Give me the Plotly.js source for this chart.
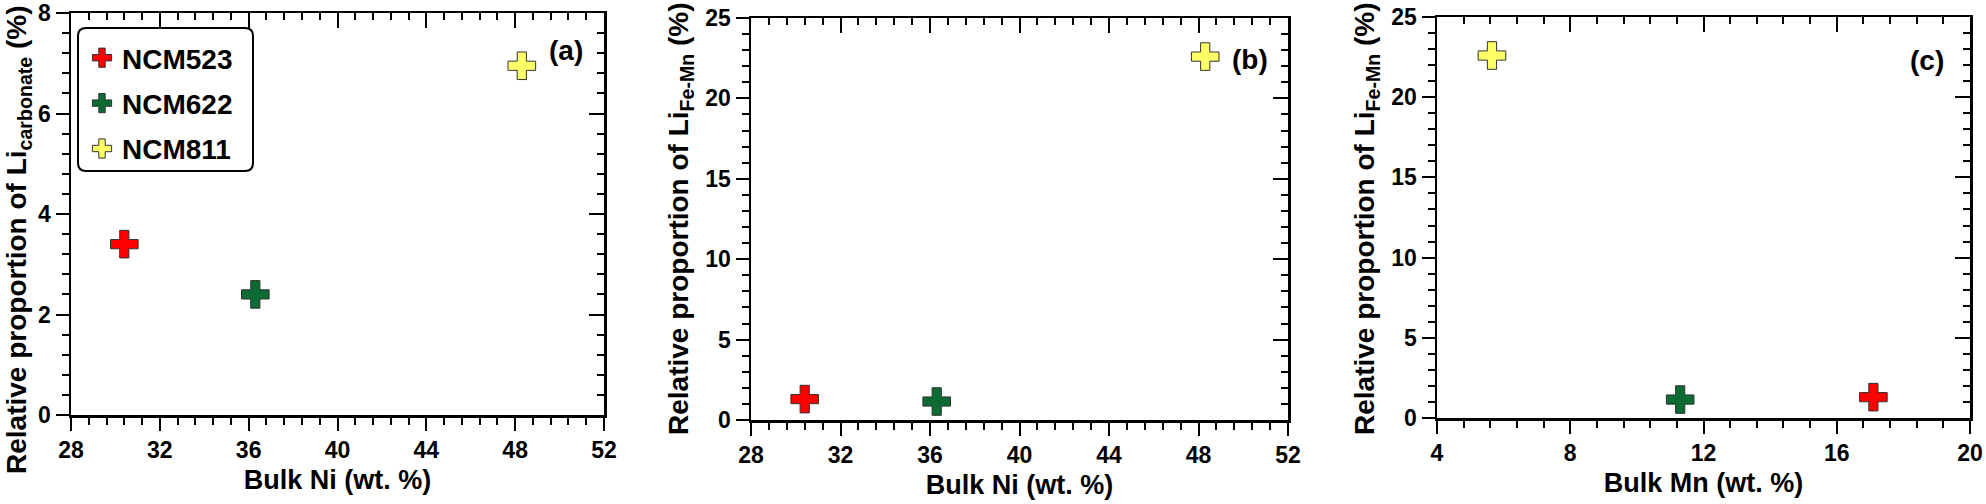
<!DOCTYPE html>
<html>
<head>
<meta charset="utf-8">
<script src="https://cdn.plot.ly/plotly-3.0.1.min.js"></script>
<style>
  html, body { margin: 0; padding: 0; background: #fff; }
  #chart { width: 1986px; height: 504px; }
</style>
</head>
<body>
<div id="chart"></div>
<script>
// ---- data ----
const samples = ['NCM523', 'NCM622', 'NCM811'];
const bulkNi = [30.4, 36.3, 48.3];
const bulkMn = [17.1, 11.3, 5.65];
const liCarbonate = [3.4, 2.4, 6.95];
const liFeMn = [1.3, 1.15, 22.6];
const sampleColors = ['#FF0000', '#0B6B32', '#FFFF66'];
const panelLabels = ['(a)', '(b)', '(c)'];
const xTitles = ['Bulk Ni (wt. %)', 'Bulk Ni (wt. %)', 'Bulk Mn (wt. %)'];
const yTitles = ['Relative proportion of Li<sub>carbonate</sub> (%)',
                 'Relative proportion of Li<sub>Fe-Mn</sub> (%)',
                 'Relative proportion of Li<sub>Fe-Mn</sub> (%)'];

// ---- layout geometry ----
const W = 1986, H = 504;
const FONT = 'Liberation Sans, Arial, sans-serif';
const panels = [
  {x0: 71, x1: 604, y0: 13, y1: 415, xr: [28, 52], xd: 4, xm: 0.8, yr: [0, 8], yd: 2, ym: 0.4,
   xs: bulkNi, ys: liCarbonate, lab: [50.3, 7.25], ytx: 18, ytyc: 240},
  {x0: 751, x1: 1288, y0: 18, y1: 420, xr: [28, 52], xd: 4, xm: 0.8, yr: [0, 25], yd: 5, ym: 1,
   xs: bulkNi, ys: liFeMn, lab: [50.3, 22.4], ytx: 680, ytyc: 219},
  {x0: 1437, x1: 1970, y0: 17, y1: 418, xr: [4, 20], xd: 4, xm: 0.8, yr: [0, 25], yd: 5, ym: 1,
   xs: bulkMn, ys: liFeMn, lab: [18.7, 22.3], ytx: 1366, ytyc: 219}
];

const tickFont = {family: FONT, size: 23, color: '#000', weight: 'bold'};
const titleFont = {family: FONT, size: 27, color: '#000', weight: 'bold'};
const yTitleFont = {family: FONT, size: 28, color: '#000', weight: 'bold'};

const traces = [];
const layout = {
  width: W, height: H,
  margin: {l: 0, r: 0, t: 0, b: 0},
  paper_bgcolor: '#fff', plot_bgcolor: '#fff',
  showlegend: true,
  legend: {
    x: 82 / W, y: 1 - 33 / H, xanchor: 'left', yanchor: 'top',
    font: {family: FONT, size: 28, color: '#000', weight: 'bold'},
    bgcolor: 'rgba(0,0,0,0)', borderwidth: 0,
    traceorder: 'grouped', tracegroupgap: 6, itemwidth: 30
  },
  annotations: [],
  shapes: []
};

panels.forEach((p, i) => {
  const n = i + 1, m = i + 4;
  const xs = n === 1 ? '' : String(n);
  const xo = String(m);
  const dx = [p.x0 / W, p.x1 / W];
  const dy = [1 - p.y1 / H, 1 - p.y0 / H];

  const base = {
    showline: true, linecolor: '#000', linewidth: 2.5,
    showgrid: false, zeroline: false, ticks: 'outside', tickcolor: '#000',
    tickwidth: 2, ticklen: 13, tickfont: tickFont, fixedrange: true
  };
  layout['xaxis' + xs] = Object.assign({}, base, {
    domain: dx, anchor: 'y' + xs, range: p.xr, tick0: p.xr[0], dtick: p.xd,
    minor: {dtick: p.xm, tick0: p.xr[0], ticks: 'outside', ticklen: 7, tickwidth: 2, tickcolor: '#000'},
    title: {text: xTitles[i], font: titleFont, standoff: 8}
  });
  layout['yaxis' + xs] = Object.assign({}, base, {
    domain: dy, anchor: 'x' + xs, range: p.yr, tick0: 0, dtick: p.yd,
    minor: {dtick: p.ym, tick0: 0, ticks: 'outside', ticklen: 7, tickwidth: 2, tickcolor: '#000'}
  });
  // mirrored axes with inward ticks (top and right)
  layout['xaxis' + xo] = Object.assign({}, base, {
    overlaying: 'x' + xs, side: 'top', anchor: 'y' + xs, range: p.xr, tick0: p.xr[0], dtick: p.xd,
    ticks: 'inside', ticklen: 15, showticklabels: false,
    minor: {dtick: p.xm, tick0: p.xr[0], ticks: 'inside', ticklen: 7, tickwidth: 2, tickcolor: '#000'}
  });
  layout['yaxis' + xo] = Object.assign({}, base, {
    overlaying: 'y' + xs, side: 'right', anchor: 'x' + xs, range: p.yr, tick0: 0, dtick: p.yd,
    ticks: 'inside', ticklen: 15, showticklabels: false,
    minor: {dtick: p.ym, tick0: 0, ticks: 'inside', ticklen: 7, tickwidth: 2, tickcolor: '#000'}
  });
  traces.push({x: [], y: [], xaxis: 'x' + xo, yaxis: 'y' + xs, type: 'scatter', mode: 'markers', showlegend: false, hoverinfo: 'skip'});
  traces.push({x: [], y: [], xaxis: 'x' + xs, yaxis: 'y' + xo, type: 'scatter', mode: 'markers', showlegend: false, hoverinfo: 'skip'});

  samples.forEach((s, k) => {
    traces.push({
      type: 'scatter', mode: 'markers',
      x: [p.xs[k]], y: [p.ys[k]],
      xaxis: 'x' + xs, yaxis: 'y' + xs,
      name: s, legendgroup: s, showlegend: i === 0,
      marker: {symbol: 'cross', size: 23, color: sampleColors[k], line: {color: '#333', width: 1}},
      cliponaxis: false
    });
  });

  // panel tag
  layout.annotations.push({
    xref: 'x' + xs, yref: 'y' + xs, x: p.lab[0], y: p.lab[1], text: panelLabels[i],
    showarrow: false, font: {family: FONT, size: 28, color: '#000', weight: 'bold'},
    xanchor: 'center', yanchor: 'middle'
  });
  // y-axis title (placed as rotated text)
  layout.annotations.push({
    xref: 'paper', yref: 'paper', x: p.ytx / W, y: 1 - p.ytyc / H, text: yTitles[i],
    textangle: -90, showarrow: false, font: yTitleFont,
    xanchor: 'center', yanchor: 'middle'
  });
});

// rounded legend frame
(function () {
  const L = 78 / W, R = 253 / W, T = 1 - 28 / H, B = 1 - 171 / H;
  const rx = 8 / W, ry = 8 / H;
  const path = `M ${L + rx} ${T} L ${R - rx} ${T} Q ${R} ${T} ${R} ${T - ry} L ${R} ${B + ry} Q ${R} ${B} ${R - rx} ${B} ` +
               `L ${L + rx} ${B} Q ${L} ${B} ${L} ${B + ry} L ${L} ${T - ry} Q ${L} ${T} ${L + rx} ${T} Z`;
  layout.shapes.push({type: 'path', xref: 'paper', yref: 'paper', path: path,
    line: {color: '#000', width: 2}, fillcolor: 'rgba(0,0,0,0)', layer: 'above'});
})();

Plotly.newPlot('chart', traces, layout, {staticPlot: true, displayModeBar: false});
</script>
</body>
</html>
